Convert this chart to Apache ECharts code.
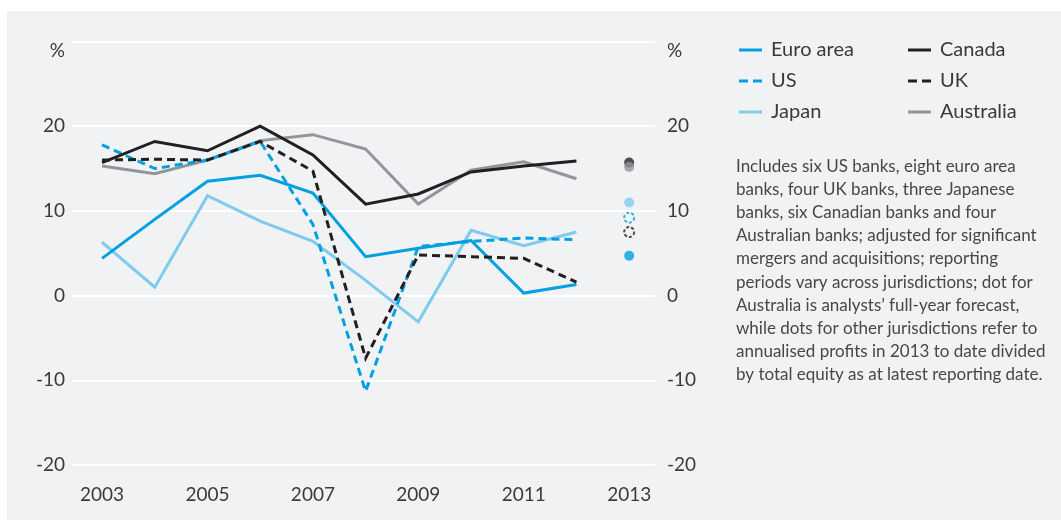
<!DOCTYPE html>
<html>
<head>
<meta charset="utf-8">
<script src="https://cdn.jsdelivr.net/npm/echarts@6/dist/echarts.min.js"></script>
<style>
  html, body { margin: 0; padding: 0; background: #fff; }
  #chart { width: 1061px; height: 522px; }
</style>
</head>
<body>
<div id="chart"></div>
<script>
    // return on equity, %
    var years = [2003, 2004, 2005, 2006, 2007, 2008, 2009, 2010, 2011, 2012];
    var euroArea = [4.4, 9.0, 13.5, 14.2, 12.1, 4.6, 5.6, 6.5, 0.3, 1.3];
    var us = [17.8, 15.0, 16.0, 18.2, 8.4, -11.3, 5.8, 6.4, 6.8, 6.6];
    var japan = [6.3, 1.0, 11.8, 8.8, 6.4, 1.8, -3.1, 7.7, 5.9, 7.5];
    var canada = [15.7, 18.2, 17.1, 20.0, 16.6, 10.8, 12.0, 14.6, 15.3, 15.9];
    var uk = [16.0, 16.1, 16.0, 18.2, 14.7, -7.4, 4.8, 4.6, 4.4, 1.6];
    var australia = [15.3, 14.4, 16.0, 18.3, 19.0, 17.3, 10.8, 14.8, 15.8, 13.8];
    // 2013 dots: canada, australia, japan, us, uk, euro area
    var dotYear = 2013;
    var dots2013 = [15.7, 15.2, 11.0, 9.2, 7.5, 4.7];
    var xTicks = [2003, 2005, 2007, 2009, 2011, 2013];

    var blue = '#00a0e1', lightBlue = '#7fcbee', black = '#231f20', grey = '#939598';
    var panel = '#f1f2f4';
    var font = 'Lato';
    var solidIcon = 'path://M0,0h23v3h-23z';
    var dashIcon = 'path://M0,0h9v3h-9zM14,0h9v3h-9z';

    function pairs(vals) {
        return vals.map(function (v, i) { return [years[i], v]; });
    }

    function lineSeries(name, vals, color, dashed) {
        return {
            name: name,
            type: 'line',
            data: pairs(vals),
            symbol: 'none',
            silent: true,
            lineStyle: { color: color, width: 3, type: dashed ? [8, 5] : 'solid', join: 'miter' },
            itemStyle: { color: color }
        };
    }

    var dotStyles = [
        { color: black },
        { color: grey },
        { color: lightBlue },
        { color: panel, borderColor: blue, borderWidth: 2, borderType: [3, 2] },
        { color: panel, borderColor: black, borderWidth: 2, borderType: [3, 2] },
        { color: blue }
    ];

    var yAxisBase = {
        type: 'value',
        min: -20,
        max: 30,
        interval: 10,
        axisLine: { show: false },
        axisTick: { show: false },
        axisLabel: {
            fontFamily: font,
            fontSize: 19,
            color: '#3a3a3a',
            formatter: function (v) { return v === 30 ? '{p|%}' : String(v); },
            rich: { p: { fontFamily: font, fontSize: 19, color: '#3a3a3a', padding: [19, 0, 0, 0] } }
        }
    };

    var legendBase = {
        orient: 'vertical',
        top: 35,
        itemWidth: 23,
        itemHeight: 3,
        itemGap: 11,
        selectedMode: false,
        textStyle: { fontFamily: font, fontSize: 20, color: '#3a3a3a', lineHeight: 20, padding: [0, 0, 0, 4] }
    };

    function legendItem(name, dashed) {
        return { name: name, icon: dashed ? dashIcon : solidIcon };
    }

    var chart = echarts.init(document.getElementById('chart'));
    chart.setOption({
        animation: false,
        backgroundColor: '#fff',
        graphic: [
            { type: 'rect', left: 7, top: 11, shape: { width: 1054, height: 509 }, style: { fill: panel }, z: -10, silent: true },
            {
                type: 'text',
                left: 736,
                top: 155,
                style: {
                    text: 'Includes six US banks, eight euro area\n' +
                        'banks, four UK banks, three Japanese\n' +
                        'banks, six Canadian banks and four\n' +
                        'Australian banks; adjusted for significant\n' +
                        'mergers and acquisitions; reporting\n' +
                        'periods vary across jurisdictions; dot for\n' +
                        'Australia is analysts\u2019 full-year forecast,\n' +
                        'while dots for other jurisdictions refer to\n' +
                        'annualised profits in 2013 to date divided\n' +
                        'by total equity as at latest reporting date.',
                    fontFamily: font,
                    fontSize: 17,
                    lineHeight: 23.1,
                    fill: '#474747'
                }
            }
        ],
        legend: [
            Object.assign({}, legendBase, { left: 734, data: [legendItem('Euro area'), legendItem('US', true), legendItem('Japan')] }),
            Object.assign({}, legendBase, { left: 903, data: [legendItem('Canada'), legendItem('UK', true), legendItem('Australia')] })
        ],
        grid: { left: 72, right: 406, top: 41.5, bottom: 57, containLabel: false },
        xAxis: {
            type: 'value',
            min: 2002.43,
            max: 2013.49,
            axisLine: { show: false },
            axisTick: { show: false },
            splitLine: { show: false },
            axisLabel: {
                customValues: xTicks,
                margin: 20,
                fontFamily: font,
                fontSize: 19,
                color: '#3a3a3a',
                formatter: function (v) { return String(v); }
            }
        },
        yAxis: [
            Object.assign({}, yAxisBase, {
                position: 'left',
                splitLine: { lineStyle: { color: '#ffffff', width: 2 } },
                axisLabel: Object.assign({}, yAxisBase.axisLabel, { margin: 7 })
            }),
            Object.assign({}, yAxisBase, {
                position: 'right',
                splitLine: { show: false },
                axisLabel: Object.assign({}, yAxisBase.axisLabel, { margin: 12 })
            })
        ],
        series: [
            lineSeries('Australia', australia, grey, false),
            lineSeries('Japan', japan, lightBlue, false),
            lineSeries('Euro area', euroArea, blue, false),
            lineSeries('US', us, blue, true),
            lineSeries('UK', uk, black, true),
            lineSeries('Canada', canada, black, false),
            {
                name: 'dots',
                type: 'scatter',
                symbolSize: 10,
                silent: true,
                data: dots2013.map(function (v, i) {
                    return { value: [dotYear, v], itemStyle: dotStyles[i] };
                })
            }
        ]
    });
</script>
</body>
</html>
